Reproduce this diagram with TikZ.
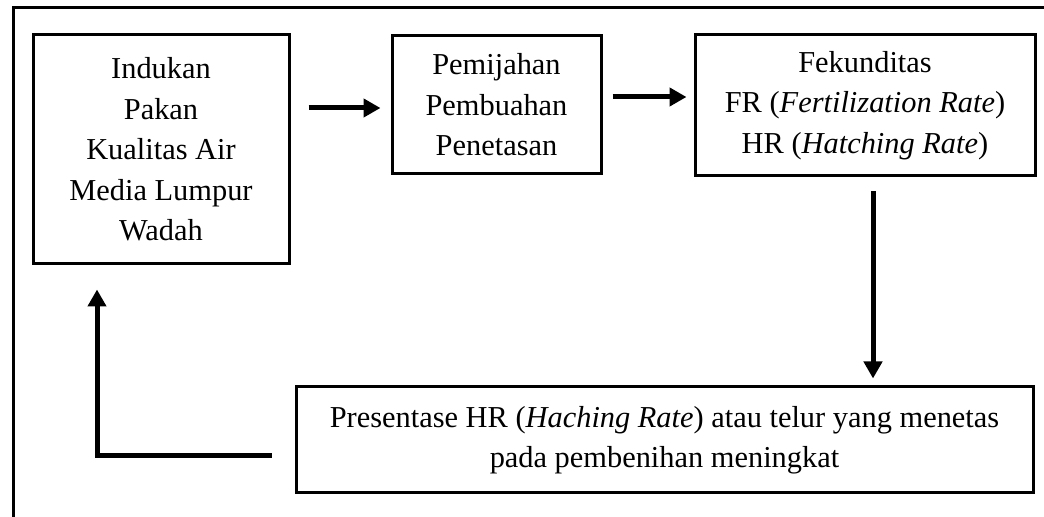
\documentclass[tikz,border=0pt]{standalone}
\usepackage{fontspec}
\setmainfont{Liberation Serif}
\usetikzlibrary{arrows.meta, calc}

\begin{document}
\begin{tikzpicture}[
    x=0.5pt,
    y=-0.5pt,
    >={Triangle[length=8.5pt, width=9pt]},
    box/.style={
        draw=black,
        line width=1.5pt,
        inner sep=0pt,
        align=center,
        font=\fontsize{15.2pt}{20.25pt}\selectfont
    },
    arr/.style={
        ->,
        line width=2.5pt
    },
    frame/.style={
        line width=1.5pt
    }
]

    \useasboundingbox (0,0) rectangle (1044,517);

    % === Bingkai ===
    \draw[frame] (1044,8) -- (13,8) -- (13,517);

    % === Kotak ===
    \node[box, minimum width=128pt, minimum height=114.5pt] (induk) at (161,149.5)
        {Indukan\\Pakan\\Kualitas Air\\Media Lumpur\\Wadah};
    \node[box, minimum width=104.5pt, minimum height=69pt] (pijah) at (496.5,105)
        {Pemijahan\\Pembuahan\\Penetasan};
    \node[box, minimum width=170pt, minimum height=70.5pt] (fekun) at (865,105.5)
        {Fekunditas\\FR (\textit{Fertilization Rate})\\HR (\textit{Hatching Rate})};
    \node[box, minimum width=368.5pt, minimum height=53pt] (hasil) at (664.5,440)
        {Presentase HR (\textit{Haching Rate}) atau telur yang menetas\\pada pembenihan meningkat};
    \coordinate (belok) at (97,456);

    % === Panah ===
    \draw[arr, shorten <=9pt, shorten >=5pt]
        ([yshift=-1.5pt]induk.east |- pijah.west) -- ([yshift=-1.5pt]pijah.west);
    \draw[arr, shorten <=5pt, shorten >=3.5pt]
        ([yshift=4pt]pijah.east) -- ([yshift=4pt]pijah.east -| fekun.west);
    \draw[arr, shorten <=7pt, shorten >=3.5pt]
        ([xshift=4pt]fekun.south) -- ([xshift=4pt]fekun.south |- hasil.north);
    \draw[arr, shorten >=12pt]
        ([xshift=-11.5pt]hasil.west |- belok) -- (belok) -- (belok |- induk.south);

\end{tikzpicture}
\end{document}
